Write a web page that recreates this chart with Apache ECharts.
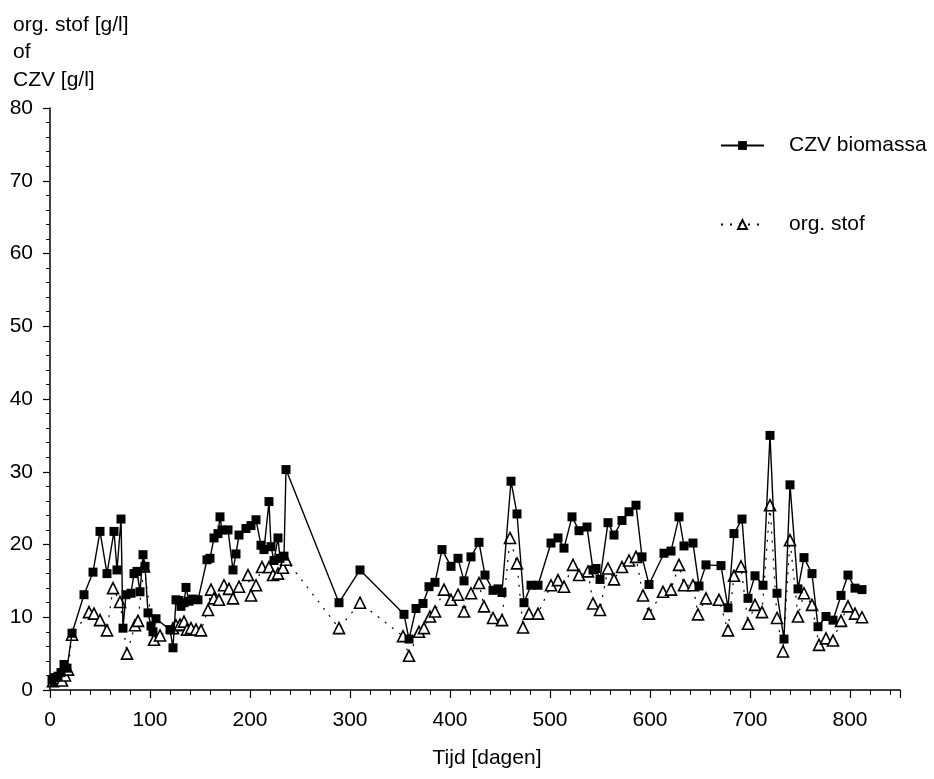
<!DOCTYPE html>
<html>
<head>
<meta charset="utf-8">
<script src="https://cdn.jsdelivr.net/npm/echarts@6/dist/echarts.min.js"></script>
<style>
html,body{margin:0;padding:0;background:#fff;}
#c{width:934px;height:779px;}
</style>
</head>
<body>
<div id="c"></div>
<script>
const czvDays = [2,5,8,11,14,17,22,34,43,50,57,64,67,71,73,76,81,84,87,90,93,95,98,101,103,106,120,123,126,129,131,134,136,139,143,148,157,160,164,168,170,172,178,183,186,189,196,201,206,211,214,219,221,224,228,230,234,236,289,310,354,359,366,373,379,385,392,401,408,414,421,429,435,443,448,452,461,467,474,481,488,501,508,514,522,529,537,543,546,550,558,564,572,579,586,592,599,614,621,629,634,643,649,656,671,678,684,692,698,705,713,720,727,734,740,748,754,762,768,776,783,791,798,805,812];
const czvVals = [1.4,1.7,1.9,2.4,3.5,3.0,7.8,13.1,16.2,21.8,16.0,21.8,16.5,23.5,8.5,13.1,13.3,16.0,16.3,13.5,18.6,17.0,10.6,8.8,8.0,9.8,8.3,5.8,12.4,12.3,11.5,12.0,14.1,12.2,12.5,12.4,17.9,18.1,20.9,21.5,23.8,22.0,22.0,16.5,18.7,21.3,22.2,22.6,23.4,19.9,19.3,25.9,19.7,17.8,20.9,18.1,18.4,30.3,12.0,16.5,10.4,7.0,11.2,11.9,14.2,14.8,19.3,17.0,18.1,15.0,18.3,20.3,15.8,13.7,13.9,13.4,28.7,24.2,12.0,14.4,14.4,20.2,20.9,19.5,23.8,21.9,22.4,16.5,16.7,15.2,23.0,21.3,23.3,24.5,25.4,18.3,14.5,18.8,19.1,23.8,19.8,20.2,14.3,17.2,17.1,11.3,21.5,23.5,12.6,15.7,14.4,35.0,13.3,7.0,28.2,13.9,18.2,16.0,8.7,10.1,9.6,13.0,15.8,14.0,13.8];
const osDays = [3,6,9,12,15,18,22,39,44,50,57,63,70,77,85,88,94,104,110,123,126,130,134,137,141,146,151,158,161,164,169,174,179,183,189,198,201,206,212,219,223,228,233,236,289,310,353,359,369,374,380,385,394,401,408,414,421,429,434,443,452,460,467,473,479,488,501,508,514,523,529,538,543,550,558,564,572,579,586,593,599,613,621,629,634,643,648,656,669,678,684,691,698,705,712,720,727,733,740,748,754,762,769,776,783,791,798,805,812];
const osVals = [1.2,1.4,1.6,1.3,2.0,2.8,7.6,10.7,10.5,9.6,8.2,14.0,12.1,5.0,8.9,9.5,17.0,6.9,7.5,8.5,8.9,9.0,9.4,8.3,8.5,8.3,8.2,11.0,13.8,12.6,12.4,14.4,13.9,12.6,14.2,15.8,13.0,14.4,16.9,16.9,15.8,16.0,16.8,17.9,8.5,12.0,7.4,4.7,8.0,8.5,10.1,10.8,13.8,12.4,13.1,10.8,13.3,14.7,11.5,9.9,9.6,20.9,17.4,8.6,10.5,10.5,14.4,15.1,14.2,17.2,15.8,16.3,11.9,11.0,16.7,15.2,16.9,17.8,18.3,13.0,10.5,13.5,13.8,17.2,14.4,14.4,10.4,12.6,12.4,8.2,15.7,17.0,9.1,11.7,10.7,25.4,9.9,5.3,20.6,10.1,13.3,11.7,6.2,7.1,6.8,9.5,11.5,10.5,10.0];
const xTicks = [0,100,200,300,400,500,600,700,800];
const yTicks = [0,10,20,30,40,50,60,70,80];

const FONT = '"Liberation Sans", Arial, Helvetica, sans-serif';
const zip = (a, b) => a.map((d, i) => [d, b[i]]);

const chart = echarts.init(document.getElementById('c'), null, {renderer: 'canvas'});
chart.setOption({
  animation: false,
  backgroundColor: '#fff',
  textStyle: {fontFamily: FONT, color: '#000'},
  title: {
    text: 'org. stof [g/l]\nof\nCZV [g/l]',
    left: 8, top: 6,
    textStyle: {fontFamily: FONT, fontSize: 21, fontWeight: 'normal', color: '#000', lineHeight: 27.5}
  },
  grid: {left: 50, right: 34, top: 108, bottom: 89, containLabel: false},
  legend: {
    orient: 'vertical',
    left: 715, top: 130,
    itemWidth: 43, itemHeight: 11, itemGap: 58,
    data: ['CZV biomassa', 'org. stof'],
    textStyle: {fontFamily: FONT, fontSize: 21, color: '#000', padding: [0, 0, 0, 20]}
  },
  xAxis: {
    type: 'value', min: 0, max: 850, interval: 100,
    name: 'Tijd [dagen]', nameLocation: 'middle', nameGap: 58,
    nameTextStyle: {fontFamily: FONT, fontSize: 21, color: '#000', padding: [0, 0, 0, 24]},
    axisLine: {show: true, onZero: false, lineStyle: {color: '#000', width: 1.5}},
    axisTick: {show: true, inside: false, length: 8, lineStyle: {color: '#000', width: 1.2}},
    minorTick: {show: true, splitNumber: 5, length: 5, lineStyle: {color: '#000', width: 1}},
    splitLine: {show: false},
    axisLabel: {fontFamily: FONT, fontSize: 21, color: '#000', margin: 20,
      formatter: v => (xTicks.indexOf(v) >= 0 ? String(v) : '')}
  },
  yAxis: {
    type: 'value', min: 0, max: 80, interval: 10,
    axisLine: {show: true, onZero: false, lineStyle: {color: '#000', width: 1.5}},
    axisTick: {show: true, inside: false, length: 7, lineStyle: {color: '#000', width: 1.2}},
    minorTick: {show: true, splitNumber: 5, length: 4, lineStyle: {color: '#000', width: 1}},
    splitLine: {show: false},
    axisLabel: {fontFamily: FONT, fontSize: 21, color: '#000', margin: 17,
      formatter: v => (yTicks.indexOf(v) >= 0 ? String(v) : '')}
  },
  series: [
    {
      name: 'org. stof', type: 'line', z: 2,
      data: zip(osDays, osVals),
      symbol: 'triangle', symbolSize: 11,
      lineStyle: {color: '#000', width: 1.2, type: [2, 7]},
      itemStyle: {color: '#fff', borderColor: '#000', borderWidth: 1.6}
    },
    {
      name: 'CZV biomassa', type: 'line', z: 3,
      data: zip(czvDays, czvVals),
      symbol: 'rect', symbolSize: 9,
      lineStyle: {color: '#000', width: 1.4, type: 'solid'},
      itemStyle: {color: '#000', borderColor: '#000', borderWidth: 0}
    }
  ]
});
</script>
</body>
</html>
